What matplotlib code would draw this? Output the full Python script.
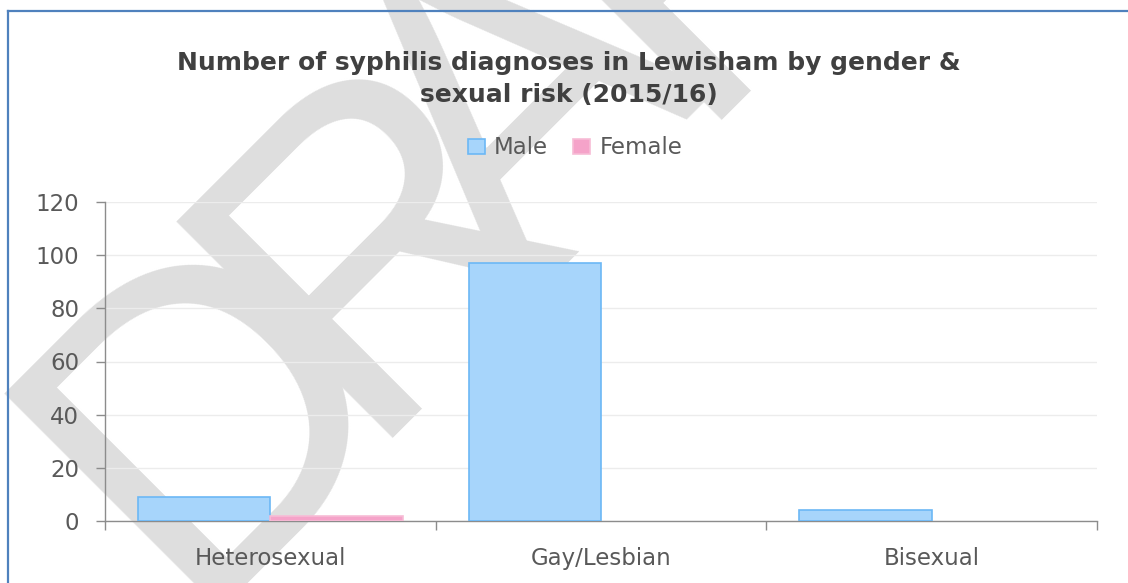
import matplotlib
matplotlib.use("Agg")
import matplotlib.pyplot as plt
import numpy as np
from matplotlib.lines import Line2D
from matplotlib.patches import Patch

# data
categories = ["Heterosexual", "Gay/Lesbian", "Bisexual"]
male = [9, 97, 4]
female = [2, 0, 0]
series_names = ["Male", "Female"]
yticks = [0, 20, 40, 60, 80, 100, 120]
title = "Number of syphilis diagnoses in Lewisham by gender &\nsexual risk (2015/16)"

MALE_FILL, MALE_EDGE = "#a7d5fb", "#6cb8f5"
FEMALE_FILL, FEMALE_EDGE = "#f5a3c9", "#f7bcd6"
TEXT = "#595959"
AXIS = "#8c8c8c"

W, H = 1128, 583

plt.rcParams["font.family"] = ["DejaVu Sans"]

fig = plt.figure(figsize=(W / 100, H / 100), dpi=100)
fig.patch.set_facecolor("white")

# ---------------------------------------------------------------------------
# "DRAFT" watermark, letters set one by one along a 45 degree line
# (s = distance along the line, u = distance below it, both in pixels)
# ---------------------------------------------------------------------------
wm_letters = ["D", "R", "A", "F", "T"]
wm_s = [-301, -58, 148, 400, 671]
wm_u = [562, 562, 569, 569, 569]
for letter, s, u in zip(wm_letters, wm_s, wm_u):
    px = (s + u) / np.sqrt(2)
    py = (u - s) / np.sqrt(2)
    fig.text(px / W, 1 - py / H, letter, rotation=45, rotation_mode="anchor",
             ha="left", va="baseline", fontsize=320, color="#dedede",
             family=["Liberation Sans", "DejaVu Sans"], zorder=0)

# thin blue frame along the top and left edge
fig.add_artist(Line2D([8 / W, 1.0], [1 - 11 / H, 1 - 11 / H], color="#4f81bd", lw=1.6, zorder=1))
fig.add_artist(Line2D([8 / W, 8 / W], [1 - 11 / H, 0.0], color="#4f81bd", lw=1.6, zorder=1))

# ---------------------------------------------------------------------------
# bars
# ---------------------------------------------------------------------------
ax = fig.add_axes([105 / W, 1 - 521 / H, (1097 - 105) / W, (521 - 202) / H])
ax.set_facecolor("none")
ax.set_zorder(2)

x = np.arange(len(categories))
w = 0.4
ax.bar(x - w / 2, male, w, color=MALE_FILL, edgecolor=MALE_EDGE,
       linewidth=[1.2 if v > 0 else 0 for v in male], zorder=3)
ax.bar(x + w / 2, female, w, color=FEMALE_FILL, edgecolor=FEMALE_EDGE,
       linewidth=[1.2 if v > 0 else 0 for v in female], zorder=3)

ax.set_xlim(-0.5, len(categories) - 0.5)
ax.set_ylim(0, 120)
ax.set_yticks(yticks)
ax.yaxis.grid(True, color="#ececec", linewidth=1.0, zorder=0)
ax.set_axisbelow(True)

ax.set_xticks(x)
ax.set_xticklabels(categories)
ax.set_xticks(np.arange(len(categories) + 1) - 0.5, minor=True)
ax.tick_params(axis="x", which="major", length=0, pad=19, labelsize=16.5, labelcolor=TEXT)
ax.tick_params(axis="x", which="minor", length=6.5, width=1.0, color=AXIS)
ax.tick_params(axis="y", length=6.5, width=1.0, color=AXIS, pad=12, labelsize=16.5, labelcolor=TEXT)

for side in ["top", "right"]:
    ax.spines[side].set_visible(False)
for side in ["left", "bottom"]:
    ax.spines[side].set_color(AXIS)
    ax.spines[side].set_linewidth(1.0)

# ---------------------------------------------------------------------------
# title + legend
# ---------------------------------------------------------------------------
fig.text(569 / W, 1 - 79 / H, title, ha="center", va="center",
         fontsize=18, fontweight="bold", color="#404040", linespacing=1.45, zorder=3)

handles = [Patch(facecolor=MALE_FILL, edgecolor=MALE_EDGE, linewidth=1.2),
           Patch(facecolor=FEMALE_FILL, edgecolor=FEMALE_EDGE, linewidth=1.2)]
leg = fig.legend(handles, series_names, loc="center", bbox_to_anchor=(575 / W, 1 - 148 / H),
                 ncol=2, frameon=False, fontsize=16.5, handlelength=0.75, handleheight=0.6,
                 handletextpad=0.4, columnspacing=1.1, borderpad=0)
for t in leg.get_texts():
    t.set_color(TEXT)

fig.savefig("out.png", dpi=100, facecolor=fig.get_facecolor())
